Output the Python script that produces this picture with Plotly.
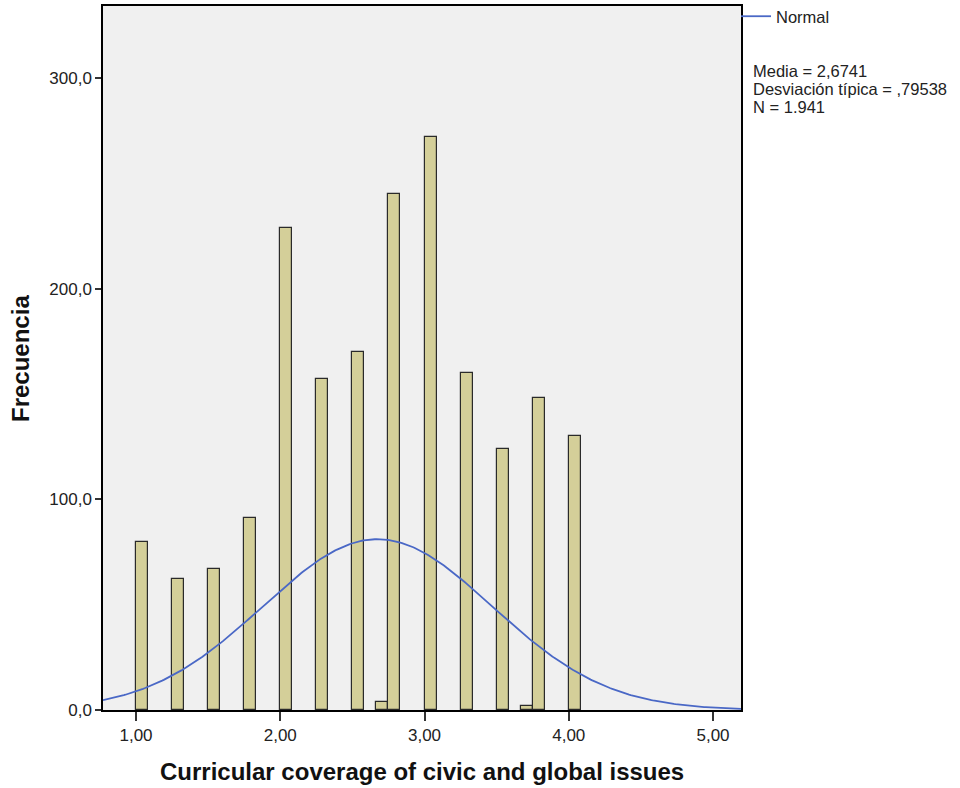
import numpy as np
import plotly.graph_objects as go

# Observed scale scores and their frequencies
score_values = [1.0, 1.25, 1.5, 1.75, 2.0, 2.25, 2.5, 8 / 3, 2.75,
                3.0, 3.25, 3.5, 11 / 3, 3.75, 4.0]
frequencies = [80, 62, 67, 91, 229, 157, 170, 4, 245,
               272, 160, 124, 2, 148, 130]

# Summary statistics
mean_value = 2.6741
std_value = 0.79538
n_total = 1941
bin_width = 1 / 12

x_ticks = [1, 2, 3, 4, 5]
y_ticks = [0, 100, 200, 300]
x_range = [0.771, 5.194]
y_range = [0, 334.4]

# Fitted normal curve scaled to the histogram counts
curve_x = np.linspace(x_range[0], x_range[1], 400)
curve_y = (n_total * bin_width / (std_value * np.sqrt(2 * np.pi))
           * np.exp(-0.5 * ((curve_x - mean_value) / std_value) ** 2))

font_family = "Liberation Sans, Arial, sans-serif"

fig = go.Figure()
fig.add_trace(go.Bar(
    x=score_values, y=frequencies,
    width=bin_width, offset=0,
    marker=dict(color="#d4cf99", line=dict(color="#2a2a2a", width=1.2)),
    showlegend=False, hoverinfo="x+y",
))
fig.add_trace(go.Scatter(
    x=curve_x, y=curve_y, mode="lines", name="Normal",
    line=dict(color="#4a68c6", width=1.8),
))

fig.update_layout(
    width=960, height=788,
    margin=dict(l=103, r=219, t=6, b=78, autoexpand=False),
    paper_bgcolor="white", plot_bgcolor="#f0f0f0",
    separators=",.",
    font=dict(family=font_family, size=16, color="#222222"),
    bargap=0,
    legend=dict(x=1 - 5 / 638, xanchor="left", y=1 + 7 / 704, yanchor="top",
                bgcolor="rgba(0,0,0,0)", borderwidth=0,
                itemwidth=30, font=dict(size=16.5)),
    xaxis=dict(range=x_range, tickvals=x_ticks, tickformat=".2f",
               showgrid=False, zeroline=False,
               showline=True, linecolor="#000000", linewidth=1.5, mirror=True,
               ticks="outside", ticklen=9, tickwidth=1.5, tickcolor="#333333",
               tickfont=dict(size=17)),
    yaxis=dict(range=y_range, tickvals=y_ticks, tickformat=".1f",
               showgrid=False, zeroline=False,
               showline=True, linecolor="#000000", linewidth=1.5, mirror=True,
               ticks="outside", ticklen=6, tickwidth=1.5, tickcolor="#333333",
               tickfont=dict(size=17)),
)

# Axis titles
fig.add_annotation(text="<b>Curricular coverage of civic and global issues</b>",
                   xref="paper", yref="paper", x=0.5, y=(710 - 771) / 704,
                   xanchor="center", yanchor="middle", showarrow=False,
                   font=dict(size=24, color="#111111"))
fig.add_annotation(text="<b>Frecuencia</b>", textangle=-90,
                   xref="paper", yref="paper", x=(20 - 103) / 638, y=0.5,
                   xanchor="center", yanchor="middle", showarrow=False,
                   font=dict(size=24, color="#111111"))

# Summary statistics text block
stats_lines = [f"Media = {mean_value:.4f}".replace(".", ","),
               "Desviación típica = ,79538",
               f"N = {n_total:,}".replace(",", ".")]
for i, line in enumerate(stats_lines):
    fig.add_annotation(text=line, xref="paper", yref="paper",
                       x=(751 - 103) / 638, y=(710 - (71 + 18 * i)) / 704,
                       xanchor="left", yanchor="middle", showarrow=False,
                       font=dict(size=16.5, color="#222222"))

fig.write_html("out.html")
